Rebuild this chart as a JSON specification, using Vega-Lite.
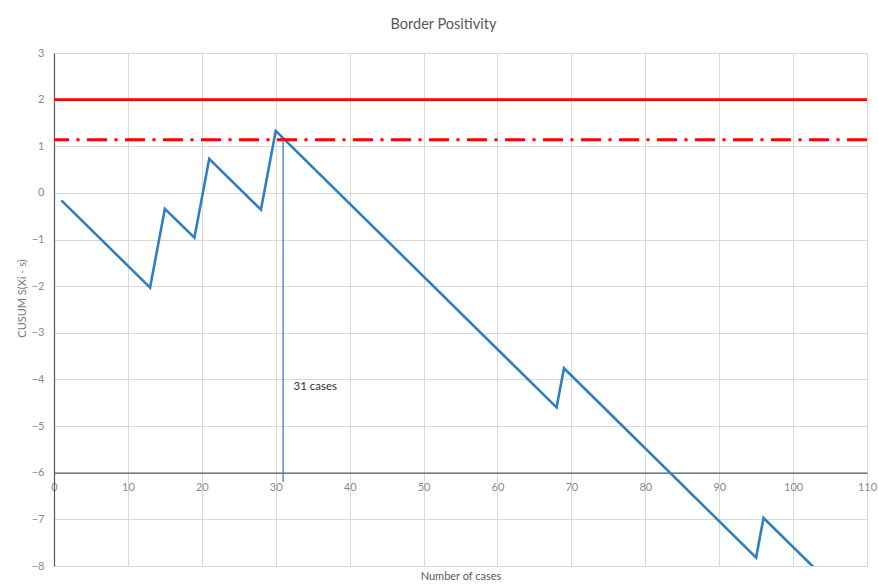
{
  "$schema": "https://vega.github.io/schema/vega-lite/v6.json",
  "autosize": "none",
  "width": 813,
  "height": 513,
  "padding": {"left": 54, "top": 53, "right": 11, "bottom": 20},
  "background": "white",
  "title": {
    "text": "Border Positivity",
    "font": "Lato",
    "fontSize": 14.5,
    "fontWeight": "normal",
    "color": "#595959",
    "anchor": "middle",
    "frame": "group",
    "dx": -17,
    "dy": 20,
    "baseline": "alphabetic",
    "offset": 24
  },
  "config": {
    "view": {"stroke": null},
    "font": "Lato"
  },
  "datasets": {
    "cusum": [
      {"case": 1, "cusum": -0.16},
      {"case": 13, "cusum": -2.03},
      {"case": 15, "cusum": -0.34},
      {"case": 19, "cusum": -0.96},
      {"case": 21, "cusum": 0.73},
      {"case": 28, "cusum": -0.36},
      {"case": 30, "cusum": 1.33},
      {"case": 68, "cusum": -4.6},
      {"case": 69, "cusum": -3.76},
      {"case": 95, "cusum": -7.82},
      {"case": 96, "cusum": -6.97},
      {"case": 103, "cusum": -8.06}
    ],
    "limits": [
      {"name": "h1", "level": 2},
      {"name": "h0", "level": 1.14}
    ],
    "signal": [
      {"case": 31, "top": 1.14, "bottom": -6.2, "label": "31 cases", "labelCase": 32.4, "labelY": -4.17}
    ]
  },
  "layer": [
    {
      "data": {"name": "cusum"},
      "mark": {"type": "line", "color": "#2f7fc1", "strokeWidth": 2.6, "clip": true, "strokeJoin": "miter"},
      "encoding": {
        "x": {
          "field": "case",
          "type": "quantitative",
          "scale": {"domain": [0, 110], "nice": false, "zero": false},
          "axis": {
            "orient": "bottom",
            "offset": -93.3,
            "values": [0, 10, 20, 30, 40, 50, 60, 70, 80, 90, 100, 110],
            "grid": true,
            "gridColor": "#d9d9d9",
            "gridWidth": 1,
            "domain": true,
            "domainColor": "#505a64",
            "domainWidth": 1.2,
            "ticks": false,
            "labelFlush": false,
            "labelPadding": 9,
            "labelFontSize": 11,
            "labelColor": "#8a8a8a",
            "labelFont": "Lato",
            "title": "Number of cases",
            "titleFont": "Lato",
            "titleFontSize": 11,
            "titleFontWeight": "normal",
            "titleColor": "#595959",
            "titleBaseline": "top",
            "titleY": 98
          }
        },
        "y": {
          "field": "cusum",
          "type": "quantitative",
          "scale": {"domain": [-8, 3], "nice": false, "zero": false},
          "axis": {
            "values": [-8, -7, -6, -5, -4, -3, -2, -1, 0, 1, 2, 3],
            "grid": true,
            "gridColor": "#d9d9d9",
            "gridWidth": 1,
            "domain": true,
            "domainColor": "#505a64",
            "domainWidth": 1.2,
            "ticks": false,
            "labelPadding": 10,
            "labelFontSize": 11,
            "labelColor": "#8a8a8a",
            "labelFont": "Lato",
            "title": "CUSUM S(Xi - s)",
            "titleFont": "Lato",
            "titleFontSize": 11,
            "titleFontWeight": "normal",
            "titleColor": "#7a7a7a",
            "titlePadding": 4,
            "titleY": 245
          }
        }
      }
    },
    {
      "data": {"name": "limits"},
      "transform": [{"filter": "datum.name === 'h1'"}],
      "mark": {"type": "rule", "color": "#ff0000", "strokeWidth": 2.6},
      "encoding": {
        "y": {"field": "level", "type": "quantitative"}
      }
    },
    {
      "data": {"name": "limits"},
      "transform": [{"filter": "datum.name === 'h0'"}],
      "mark": {"type": "rule", "color": "#ff0000", "strokeWidth": 3, "strokeDash": [20, 7.5, 3, 7.5]},
      "encoding": {
        "y": {"field": "level", "type": "quantitative"}
      }
    },
    {
      "data": {"name": "signal"},
      "mark": {"type": "rule", "color": "#3f7fc4", "strokeWidth": 1.3},
      "encoding": {
        "x": {"field": "case", "type": "quantitative"},
        "y": {"field": "top", "type": "quantitative"},
        "y2": {"field": "bottom"}
      }
    },
    {
      "data": {"name": "signal"},
      "mark": {"type": "text", "align": "left", "baseline": "middle", "fontSize": 11.5, "color": "#333333", "font": "Lato"},
      "encoding": {
        "x": {"field": "labelCase", "type": "quantitative"},
        "y": {"field": "labelY", "type": "quantitative"},
        "text": {"field": "label"}
      }
    }
  ]
}
